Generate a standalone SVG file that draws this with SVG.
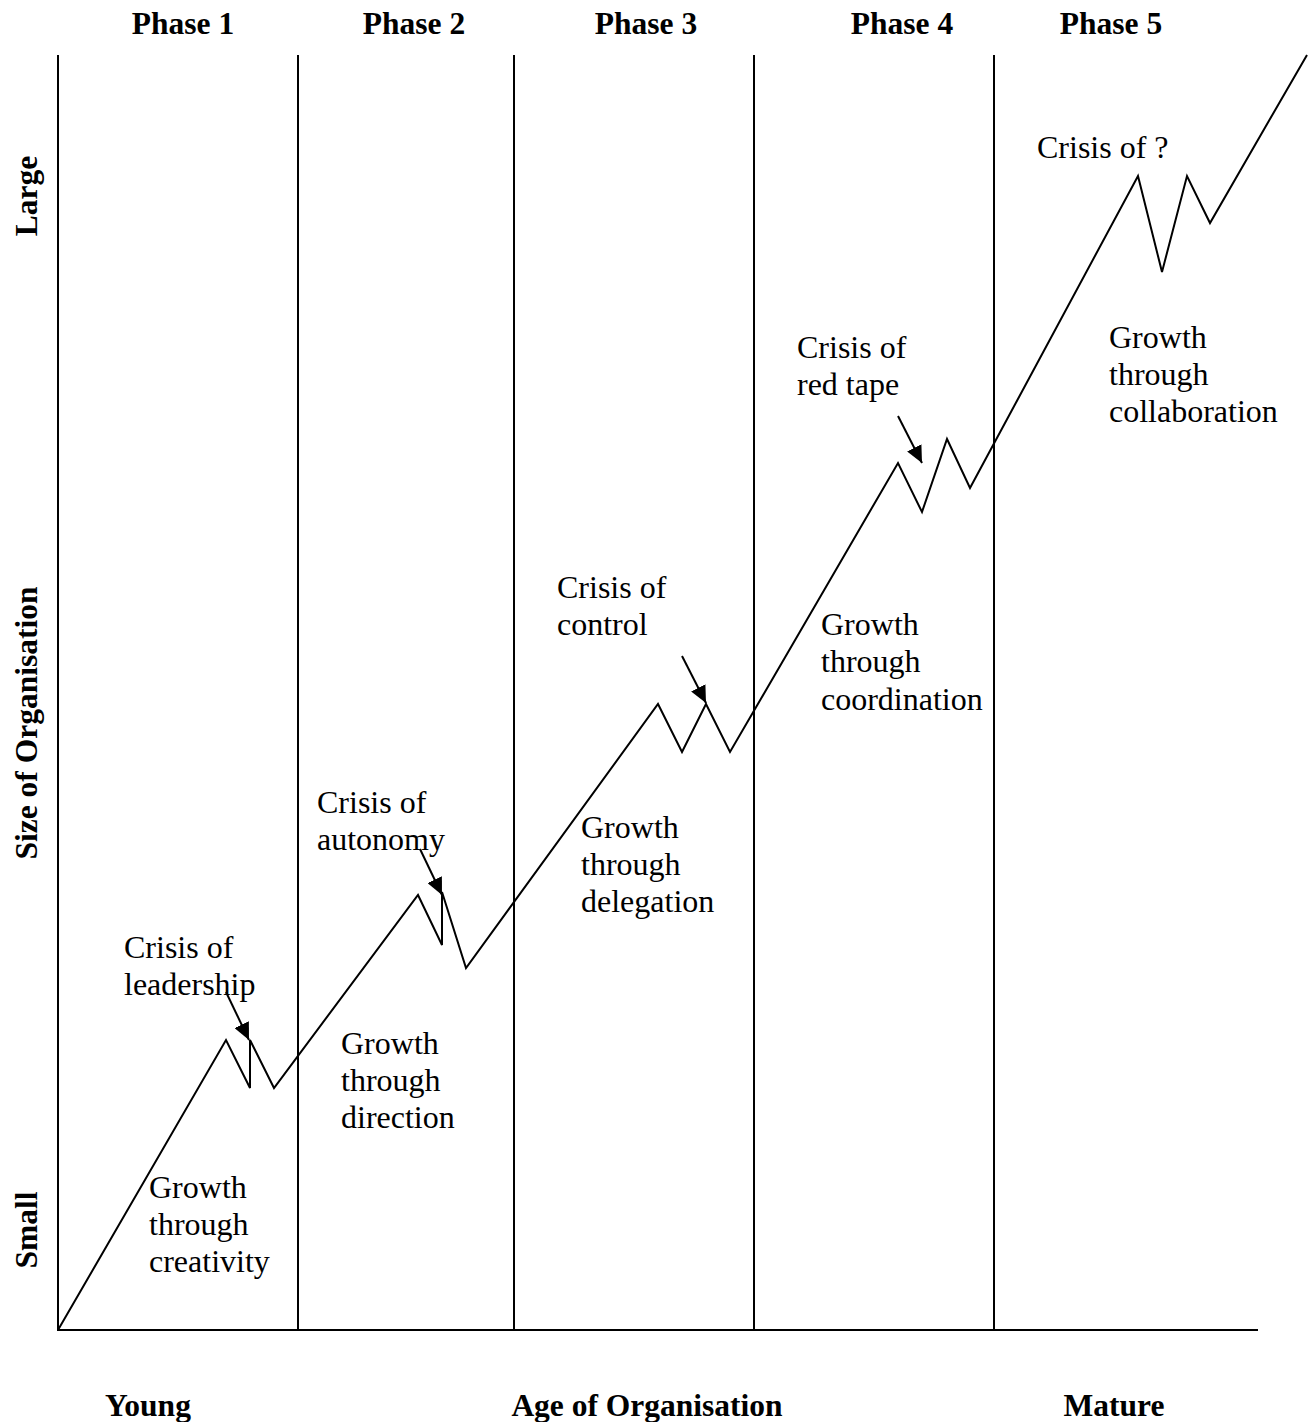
<svg xmlns="http://www.w3.org/2000/svg" width="1311" height="1422" viewBox="0 0 1311 1422">
  <style>
    .ln { stroke: #000; stroke-width: 2; fill: none; }
    .head { font-family: "Liberation Serif", "Times New Roman", serif; font-weight: bold; font-size: 31.5px; fill: #000; }
    .lbl { font-family: "Liberation Serif", "Times New Roman", serif; font-size: 32px; fill: #000; }
  </style>
  <defs>
    <marker id="arr" markerUnits="userSpaceOnUse" markerWidth="18" markerHeight="16" refX="17" refY="8" orient="auto">
      <path d="M0,0 L17,8 L0,16 Z" fill="#000"/>
    </marker>
  </defs>
  <rect width="1311" height="1422" fill="#fff"/>

  <!-- axes and phase dividers -->
  <g id="axes">
    <line class="ln" x1="58" y1="55" x2="58" y2="1330"/>
    <line class="ln" x1="57" y1="1330" x2="1258" y2="1330"/>
    <line class="ln" x1="298" y1="55" x2="298" y2="1330"/>
    <line class="ln" x1="514" y1="55" x2="514" y2="1330"/>
    <line class="ln" x1="754" y1="55" x2="754" y2="1330"/>
    <line class="ln" x1="994" y1="55" x2="994" y2="1330"/>
  </g>

  <!-- growth curve with crisis zigzags -->
  <g id="connectors">
    <polyline class="ln" stroke-linejoin="miter" points="58,1330 226,1040 250,1088 250,1040 274,1088 418,895 442,945 442,892 466,968 658,704 682,752 706,704 730,752 898,463 922,512 947,439 970,488 1138,176 1162,272 1187,176 1210,223 1307,55"/>
    <line class="ln" x1="226" y1="992" x2="249" y2="1040" marker-end="url(#arr)"/>
    <line class="ln" x1="420" y1="849" x2="442" y2="895" marker-end="url(#arr)"/>
    <line class="ln" x1="682" y1="656" x2="706" y2="703" marker-end="url(#arr)"/>
    <line class="ln" x1="898" y1="416" x2="922" y2="463" marker-end="url(#arr)"/>
  </g>

  <!-- phase headings -->
  <g id="phases">
    <text class="head" x="183" y="34" text-anchor="middle">Phase 1</text>
    <text class="head" x="414" y="34" text-anchor="middle">Phase 2</text>
    <text class="head" x="646" y="34" text-anchor="middle">Phase 3</text>
    <text class="head" x="902" y="34" text-anchor="middle">Phase 4</text>
    <text class="head" x="1111" y="34" text-anchor="middle">Phase 5</text>
  </g>

  <!-- axis titles -->
  <g id="axis-labels">
    <text class="head" transform="translate(37,196) rotate(-90)" text-anchor="middle">Large</text>
    <text class="head" transform="translate(37,723) rotate(-90)" text-anchor="middle">Size of Organisation</text>
    <text class="head" transform="translate(37,1230) rotate(-90)" text-anchor="middle">Small</text>
    <text class="head" x="148" y="1416" text-anchor="middle">Young</text>
    <text class="head" x="647" y="1416" text-anchor="middle">Age of Organisation</text>
    <text class="head" x="1114" y="1416" text-anchor="middle">Mature</text>
  </g>

  <g id="crisis-leadership">
    <text class="lbl" x="124" y="958">Crisis of</text>
    <text class="lbl" x="124" y="995">leadership</text>
  </g>
  <g id="growth-creativity">
    <text class="lbl" x="149" y="1198">Growth</text>
    <text class="lbl" x="149" y="1235">through</text>
    <text class="lbl" x="149" y="1272">creativity</text>
  </g>
  <g id="crisis-autonomy">
    <text class="lbl" x="317" y="813">Crisis of</text>
    <text class="lbl" x="317" y="850">autonomy</text>
  </g>
  <g id="growth-direction">
    <text class="lbl" x="341" y="1054">Growth</text>
    <text class="lbl" x="341" y="1091">through</text>
    <text class="lbl" x="341" y="1128">direction</text>
  </g>
  <g id="crisis-control">
    <text class="lbl" x="557" y="598">Crisis of</text>
    <text class="lbl" x="557" y="635">control</text>
  </g>
  <g id="growth-delegation">
    <text class="lbl" x="581" y="838">Growth</text>
    <text class="lbl" x="581" y="875">through</text>
    <text class="lbl" x="581" y="912">delegation</text>
  </g>
  <g id="crisis-red-tape">
    <text class="lbl" x="797" y="358">Crisis of</text>
    <text class="lbl" x="797" y="395">red tape</text>
  </g>
  <g id="growth-coordination">
    <text class="lbl" x="821" y="635">Growth</text>
    <text class="lbl" x="821" y="672">through</text>
    <text class="lbl" x="821" y="710">coordination</text>
  </g>
  <g id="crisis-unknown">
    <text class="lbl" x="1037" y="158">Crisis of ?</text>
  </g>
  <g id="growth-collaboration">
    <text class="lbl" x="1109" y="348">Growth</text>
    <text class="lbl" x="1109" y="385">through</text>
    <text class="lbl" x="1109" y="422">collaboration</text>
  </g>
</svg>
